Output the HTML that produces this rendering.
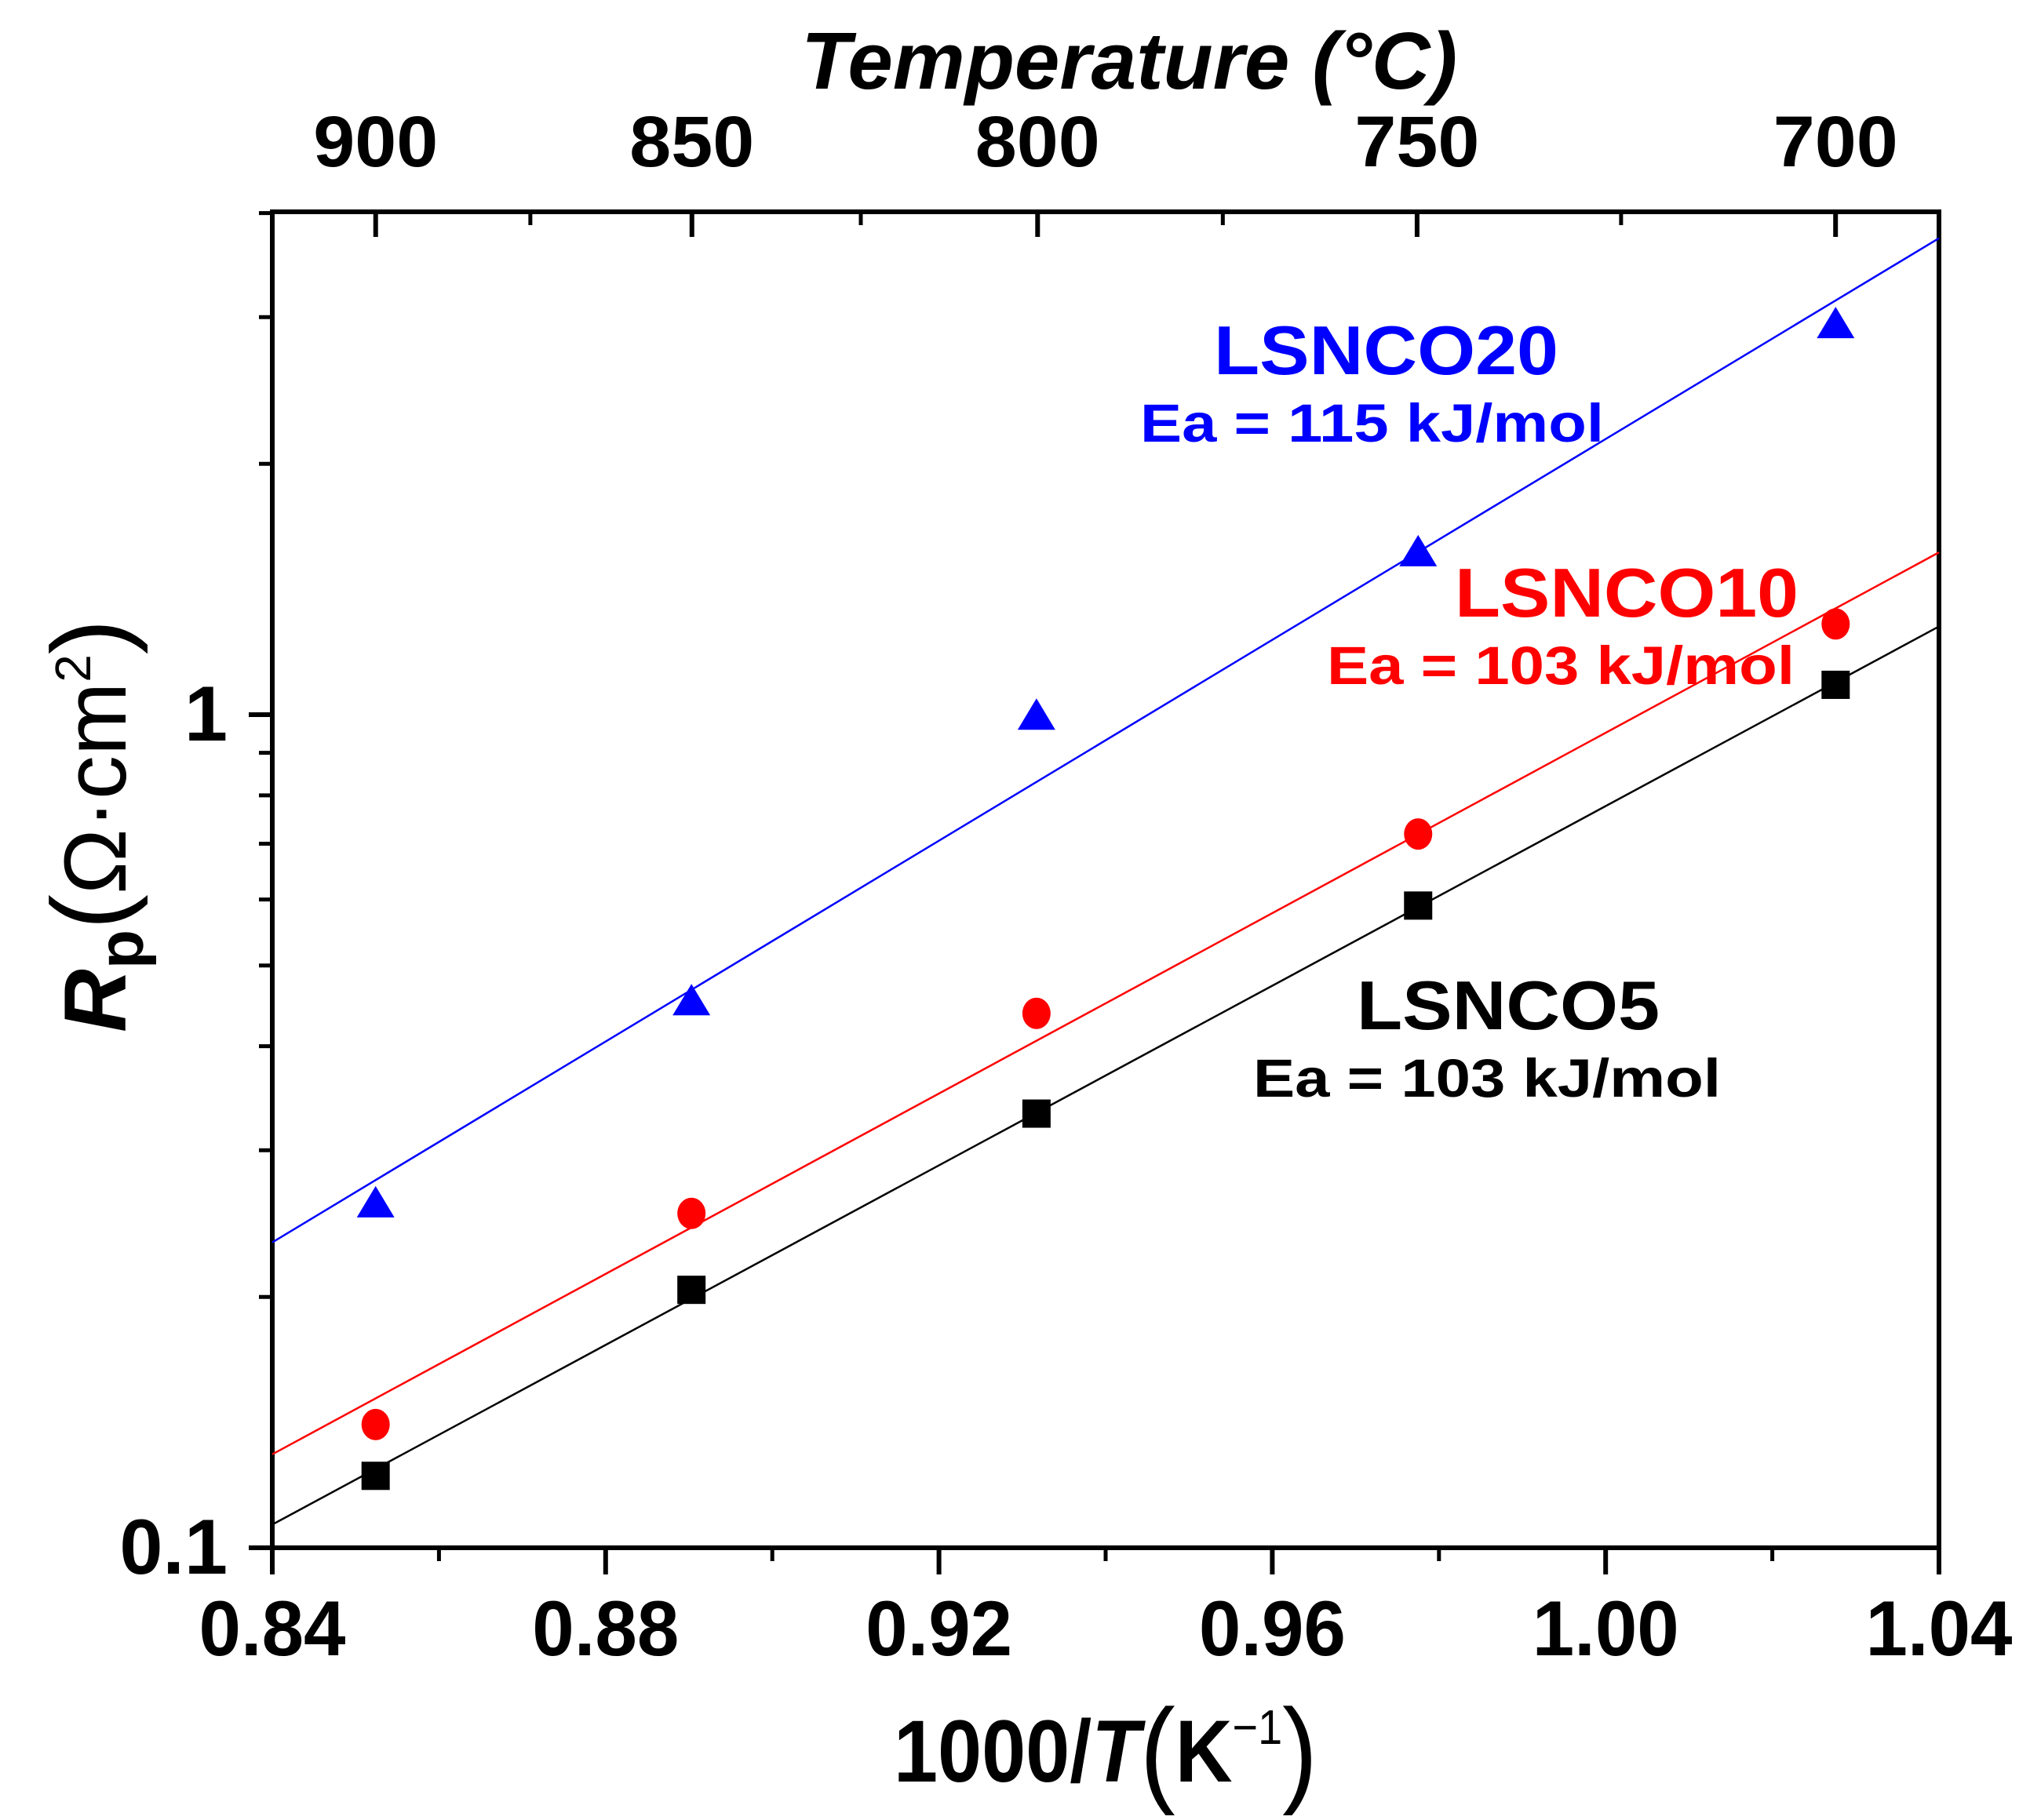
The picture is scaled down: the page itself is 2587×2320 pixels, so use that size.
<!DOCTYPE html>
<html><head><meta charset="utf-8"><style>
html,body{margin:0;padding:0;background:#fff;}
svg{display:block;font-family:"Liberation Sans",Arial,sans-serif;font-weight:bold;}
</style></head><body>
<svg id="chart" xmlns="http://www.w3.org/2000/svg" width="2587" height="2320" viewBox="0 0 2587 2320">
<g id="axes"></g>
<g id="series"></g>
<g id="labels">
<text x="1021" y="113" font-size="103" font-style="italic" textLength="836" lengthAdjust="spacingAndGlyphs">Temperature (°C)</text>
<g transform="translate(1139,2271) scale(0.9,1)">
<text x="0" y="0" font-size="112">1000/<tspan font-style="italic">T</tspan><tspan font-size="150" font-weight="normal" dy="12">(</tspan><tspan dy="-12">K</tspan><tspan font-size="62" font-weight="normal" dy="-48">−1</tspan><tspan font-size="150" font-weight="normal" dy="60">)</tspan></text>
</g>
<g transform="translate(160,1316) rotate(-90)">
<text x="0" y="0" font-size="112"><tspan font-style="italic">R</tspan><tspan font-size="82" dy="22">p</tspan><tspan dy="-22" font-weight="normal" font-size="135">(</tspan><tspan font-weight="normal">Ω·cm</tspan><tspan font-size="64" dy="-45" font-weight="normal">2</tspan><tspan dy="45" font-weight="normal" font-size="135">)</tspan></text>
</g>
<text x="1547" y="477" font-size="88" fill="#0000ff" textLength="439" lengthAdjust="spacingAndGlyphs">LSNCO20</text>
<text x="1453" y="563" font-size="69" fill="#0000ff" textLength="591" lengthAdjust="spacingAndGlyphs">Ea = 115 kJ/mol</text>
<text x="1854" y="786" font-size="88" fill="#ff0000" textLength="438" lengthAdjust="spacingAndGlyphs">LSNCO10</text>
<text x="1691" y="872" font-size="69" fill="#ff0000" textLength="596" lengthAdjust="spacingAndGlyphs">Ea = 103 kJ/mol</text>
<text x="1729" y="1312" font-size="88" fill="#000" textLength="386" lengthAdjust="spacingAndGlyphs">LSNCO5</text>
<text x="1597" y="1398" font-size="69" fill="#000" textLength="596" lengthAdjust="spacingAndGlyphs">Ea = 103 kJ/mol</text>
</g>
</svg>
<script>
const tempsC = [900, 850, 800, 750, 700];
const xInv = [0.8524, 0.8903, 0.9317, 0.9775, 1.0276];
const rpLSNCO5 = [0.122, 0.204, 0.332, 0.590, 1.086];
const rpLSNCO10 = [0.1406, 0.252, 0.438, 0.719, 1.285];
const rpLSNCO20 = [0.258, 0.451, 0.993, 1.56, 2.93];
const xTicks = [0.84, 0.88, 0.92, 0.96, 1.00, 1.04];
const xTickLabels = ["0.84", "0.88", "0.92", "0.96", "1.00", "1.04"];
const yTicks = [0.1, 1];
const yTickLabels = ["0.1", "1"];
const topTicksC = [900, 850, 800, 750, 700];
const topMinorC = [875, 825, 775, 725];

const NS = "http://www.w3.org/2000/svg";
const L = 347, R = 2471, T = 270, B = 1973;
const X0 = 0.84, X1 = 1.04, Y0 = 0.1, DEC = 1062;
function sx(v){ return L + (v - X0) / (X1 - X0) * (R - L); }
function sy(v){ return B - Math.log10(v / Y0) * DEC; }
function cToX(c){ return 1000 / (c + 273.15); }
function mk(tag, attrs, parent){
  const e = document.createElementNS(NS, tag);
  for (const k in attrs) e.setAttribute(k, attrs[k]);
  parent.appendChild(e); return e;
}
const axes = document.getElementById('axes');
const series = document.getElementById('series');

let fr = mk('rect', {x:L, y:T, width:R-L, height:B-T, fill:'none', stroke:'#000', 'stroke-width':6}, axes);



xTicks.forEach((v, i) => {
  const x = sx(v);
  const t = mk('line', {x1:x, x2:x, y1:B, y2:B+34, stroke:'#000', 'stroke-width':6}, axes);
  
  
  const lb = mk('text', {x:x, y:2110, 'font-size':99, 'text-anchor':'middle', textLength:187, lengthAdjust:'spacingAndGlyphs'}, axes);
  lb.textContent = xTickLabels[i];
  
  
  if (i < xTicks.length - 1) {
    const m = sx(v + 0.02);
    const mt = mk('line', {x1:m, x2:m, y1:B, y2:B+17, stroke:'#000', 'stroke-width':5}, axes);
    
    
  }
});

yTicks.forEach((v, i) => {
  const y = sy(v);
  const t = mk('line', {x1:L-30, x2:L, y1:y, y2:y, stroke:'#000', 'stroke-width':6}, axes);
  
  
  const lb = mk('text', {x:290, y:y+33, 'font-size':99, 'text-anchor':'end'}, axes);
  lb.textContent = yTickLabels[i];
  
  
});
[0.2,0.3,0.4,0.5,0.6,0.7,0.8,0.9,2,3,4].forEach(v => {
  const y = sy(v);
  if (y < T) return;
  const t = mk('line', {x1:L-17, x2:L, y1:y, y2:y, stroke:'#000', 'stroke-width':5}, axes);
  
  
});

topTicksC.forEach(c => {
  const x = sx(cToX(c));
  const t = mk('line', {x1:x, x2:x, y1:T, y2:T+32, stroke:'#000', 'stroke-width':6}, axes);
  
  
  const lb = mk('text', {x:x, y:212, 'font-size':92, 'text-anchor':'middle', textLength:159, lengthAdjust:'spacingAndGlyphs'}, axes);
  lb.textContent = String(c);
  
  
});
topMinorC.forEach(c => {
  const x = sx(cToX(c));
  const t = mk('line', {x1:x, x2:x, y1:T, y2:T+17, stroke:'#000', 'stroke-width':5}, axes);
  
  
});

function fit(ys){
  const n = xInv.length; let sxv=0, syv=0, sxx=0, sxy=0;
  for (let i=0;i<n;i++){ const a=xInv[i], b=Math.log10(ys[i]); sxv+=a; syv+=b; sxx+=a*a; sxy+=a*b; }
  const m = (n*sxy - sxv*syv)/(n*sxx - sxv*sxv); const c = (syv - m*sxv)/n;
  return x => Math.pow(10, m*x + c);
}
function drawSeries(ys, color, shape, name){
  const f = fit(ys);
  let x2 = X1;
  const topV = Math.pow(10,(B-T)/DEC)*Y0;
  if (f(X1) > topV) {
    const lo = Math.log10(f(X0)), hi = Math.log10(f(X1)), top = Math.log10(topV);
    x2 = X0 + (top-lo)/(hi-lo)*(X1-X0);
  }
  const ln = mk('line', {x1:sx(X0), y1:sy(f(X0)), x2:sx(x2), y2:sy(f(x2)), stroke:color, 'stroke-width':2.5}, series);
  
  
  ys.forEach((v, i) => {
    const x = sx(xInv[i]), y = sy(v);
    let m;
    if (shape === 'square') m = mk('rect', {x:x-18, y:y-18, width:36, height:36, fill:color}, series);
    else if (shape === 'circle') m = mk('ellipse', {cx:x, cy:y, rx:18, ry:20, fill:color}, series);
    else m = mk('polygon', {points:`${x},${y-24} ${x+24},${y+16} ${x-24},${y+16}`, fill:color}, series);
    
    
  });
}
drawSeries(rpLSNCO20, '#0000ff', 'triangle', 'lsnco20');
drawSeries(rpLSNCO10, '#ff0000', 'circle', 'lsnco10');
drawSeries(rpLSNCO5, '#000000', 'square', 'lsnco5');
</script>
</body></html>
